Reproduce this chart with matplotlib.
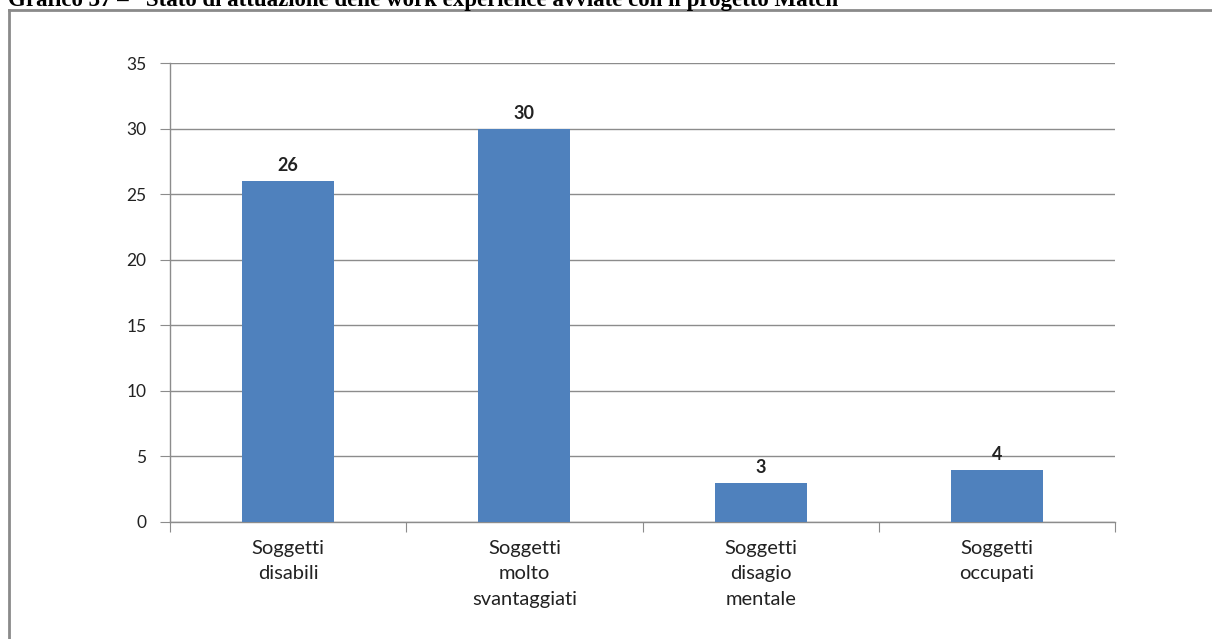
import matplotlib.pyplot as plt
from matplotlib.lines import Line2D
import numpy as np

categories = ["Soggetti\ndisabili", "Soggetti\nmolto\nsvantaggiati",
              "Soggetti\ndisagio\nmentale", "Soggetti\noccupati"]
values = [26, 30, 3, 4]
yticks = [0, 5, 10, 15, 20, 25, 30, 35]
title = "Grafico 37 \u2013   Stato di attuazione delle work experience avviate con il progetto Match"

W, H = 1212, 639
fig = plt.figure(figsize=(W / 100, H / 100), dpi=100)
ax = fig.add_axes([170 / W, 1 - 522 / H, (1115 - 170) / W, (522 - 63) / H])

x = np.arange(len(values))
ax.bar(x, values, width=0.39, color="#4F81BD", zorder=3)
for xi, v in zip(x, values):
    ax.text(xi, v + 0.5, str(v), ha="center", va="bottom", fontsize=13,
            family="Lato", fontweight="bold", color="#222222")

ax.set_xlim(-0.5, len(values) - 0.5)
ax.set_ylim(0, 35)
ax.set_yticks(yticks)
ax.set_yticklabels([str(t) for t in yticks], family="Lato", fontsize=12.5)
ax.yaxis.grid(True, color="#8c8c8c", linewidth=1, zorder=0)

# category labels centred, ticks on boundaries
ax.set_xticks(np.arange(-0.5, len(values)), labels=[""] * (len(values) + 1))
ax.set_xticks(x, labels=categories, minor=True)
ax.tick_params(axis="x", which="minor", length=0, pad=13, labelsize=14.5)
ax.tick_params(axis="x", which="major", length=7, color="#8c8c8c")
ax.tick_params(axis="y", length=7, color="#8c8c8c", pad=10)
for lab in ax.get_xticklabels(minor=True):
    lab.set_family("Lato")
    lab.set_linespacing(1.6)
    lab.set_color("#222222")
for lab in ax.get_yticklabels():
    lab.set_color("#222222")

for s in ["top", "right"]:
    ax.spines[s].set_visible(False)
for s in ["left", "bottom"]:
    ax.spines[s].set_color("#8c8c8c")
    ax.spines[s].set_linewidth(1)

# outer frame of the chart object
fig.add_artist(Line2D([9 / W, 9 / W], [0, 1 - 10 / H], transform=fig.transFigure,
                      color="#8a8a8a", linewidth=2))
fig.add_artist(Line2D([9 / W, 1], [1 - 10 / H, 1 - 10 / H], transform=fig.transFigure,
                      color="#8a8a8a", linewidth=2))

# title clipped at the top of the page, as in the source
fig.text(8 / W, 1 - 6 / H, title, ha="left", va="baseline", fontsize=16.5,
         family="Liberation Serif", fontweight="bold")

fig.savefig("out.png", dpi=100)
